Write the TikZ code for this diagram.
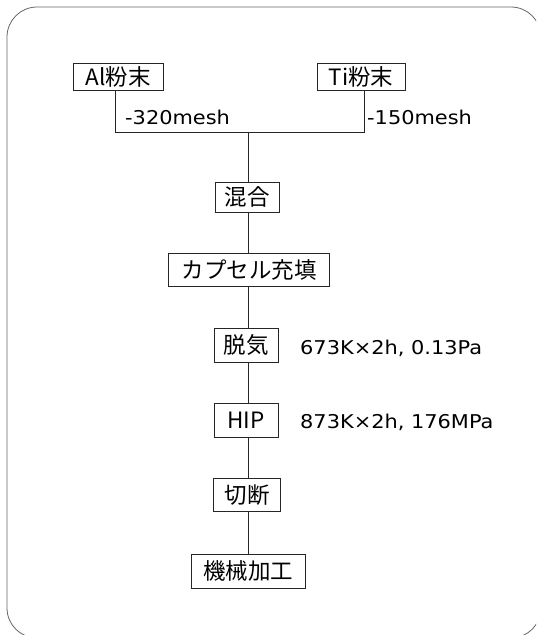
\documentclass[tikz,border=0pt]{standalone}
\usepackage{fontspec}
\setmainfont{DejaVu Sans}
\newfontfamily\jp{Noto Sans CJK JP}
\newfontfamily\condfont[FakeStretch=1.1]{DejaVu Sans}
\begin{document}
\begin{tikzpicture}[x=1pt,y=-1pt,
  stepbox/.style={draw=black!85,line width=0.9pt,inner sep=0pt,minimum height=33pt,font=\jp\fontsize{22.5}{22.5}\selectfont},
  cond/.style={anchor=west,inner sep=0pt,font=\condfont\fontsize{19}{19}\selectfont},
  link/.style={draw=black!85,line width=0.9pt}]
\useasboundingbox (0,0) rectangle (536,635);
\begin{scope}
\clip (0,0) rectangle (536,635);
\draw[black!60,line width=0.8pt,rounded corners=30pt] (7,7) rectangle (541,638);
\end{scope}
\node[stepbox,minimum width=90pt,minimum height=27pt] (al) at (118,77) {Al粉末};
\node[stepbox,minimum width=88pt,minimum height=27pt] (ti) at (361,77) {Ti粉末};
\node[stepbox,minimum width=64pt,minimum height=30pt] (mix) at (247,197) {混合};
\node[stepbox,minimum width=161pt] (cap) at (249,270) {カプセル充填};
\node[stepbox,minimum width=64pt,minimum height=34pt] (deg) at (246,345) {脱気};
\node[stepbox,minimum width=64pt,minimum height=34pt] (hip) at (246,420) {HIP};
\node[stepbox,minimum width=67pt] (cut) at (247,495) {切断};
\node[stepbox,minimum width=114pt,minimum height=34pt] (mach) at (248,571) {機械加工};
\coordinate (alb) at (115,132);
\coordinate (tib) at (364,132);
\coordinate (jn) at (248,132);
\draw[link] (al.south -| alb) -- (alb) -- (tib) -- (ti.south -| tib);
\draw[link] (jn) -- (mix.north -| jn);
\draw[link] (mix.south -| jn) -- (cap.north -| jn);
\draw[link] (cap.south -| jn) -- (deg.north -| jn);
\draw[link] (deg.south -| jn) -- (hip.north -| jn);
\draw[link] (hip.south -| jn) -- (cut.north -| jn);
\draw[link] (cut.south -| jn) -- (mach.north -| jn);
\node[cond] (m1) at (125,117) {-320mesh};
\node[cond] (m2) at (367,117) {-150mesh};
\node[cond] (c1) at (300,348) {673K×2h, 0.13Pa};
\node[cond] (c2) at (300,422) {873K×2h, 176MPa};
\end{tikzpicture}
\end{document}
